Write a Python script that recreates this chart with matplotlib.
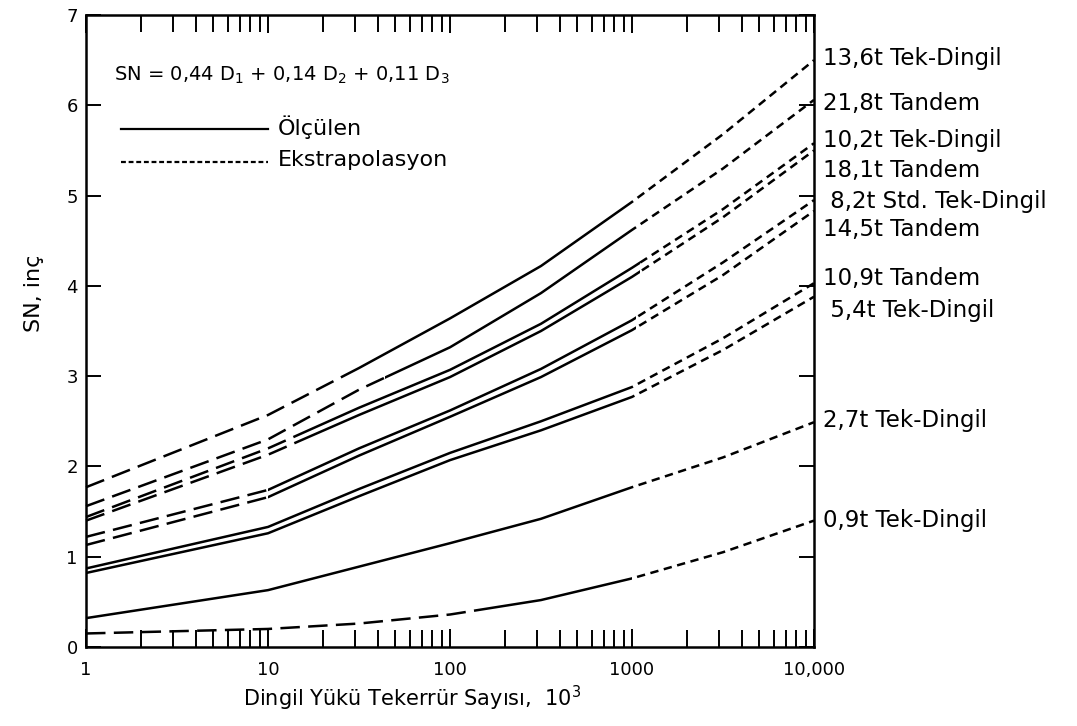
import numpy as np
import matplotlib
matplotlib.use("Agg")
import matplotlib.pyplot as plt
from matplotlib.patches import Rectangle

plt.rcParams["font.family"] = ["DejaVu Sans"]
plt.rcParams["lines.scale_dashes"] = False

# axle load repetitions (x 10^3) where values were read
X_READ = [1, 10, 31.6, 100, 316, 1000, 3162, 10000]

# SN (in) at X_READ
SN_136_TEK = [1.77, 2.57, 3.09, 3.64, 4.22, 4.93, 5.68, 6.50]
SN_218_TAN = [1.56, 2.30, 2.85, 3.32, 3.92, 4.62, 5.30, 6.06]
SN_102_TEK = [1.44, 2.20, 2.65, 3.07, 3.58, 4.20, 4.85, 5.58]
SN_181_TAN = [1.40, 2.13, 2.57, 2.99, 3.50, 4.10, 4.76, 5.50]
SN_82_STD = [1.22, 1.74, 2.20, 2.62, 3.08, 3.62, 4.26, 4.95]
SN_145_TAN = [1.13, 1.66, 2.12, 2.55, 2.99, 3.51, 4.12, 4.83]
SN_109_TAN = [0.87, 1.33, 1.75, 2.15, 2.50, 2.88, 3.42, 4.03]
SN_54_TEK = [0.82, 1.26, 1.67, 2.07, 2.40, 2.77, 3.29, 3.88]
SN_27_TEK = [0.32, 0.63, 0.89, 1.15, 1.42, 1.77, 2.10, 2.49]
SN_09_TEK = [0.15, 0.20, 0.26, 0.36, 0.52, 0.76, 1.05, 1.40]

CURVES = [SN_136_TEK, SN_218_TAN, SN_102_TEK, SN_181_TAN, SN_82_STD,
          SN_145_TAN, SN_109_TAN, SN_54_TEK, SN_27_TEK, SN_09_TEK]
# measured (solid) range of each curve, rest is extrapolation
MEASURED = [(27, 1000), (44, 1000), (14, 1100), (14, 1100), (10, 1050),
            (10, 1050), (1, 1000), (1, 1000), (1.2, 1000), (150, 1000)]

LABELS = ["13,6t Tek-Dingil", "21,8t Tandem", "10,2t Tek-Dingil", "18,1t Tandem",
          " 8,2t Std. Tek-Dingil", "14,5t Tandem", "10,9t Tandem", " 5,4t Tek-Dingil",
          "2,7t Tek-Dingil", "0,9t Tek-Dingil"]
LABEL_Y = [6.52, 6.02, 5.61, 5.28, 4.94, 4.62, 4.08, 3.73, 2.51, 1.40]

XTICKS = [1, 10, 100, 1000, 10000]
XTICKLABELS = ["1", "10", "100", "1000", "10,000"]

fig = plt.figure(figsize=(10.77, 7.26), dpi=100)
ax = fig.add_axes([0.0799, 0.1088, 0.6759, 0.8705])
ax.set_xscale("log")
ax.set_xlim(1, 10000)
ax.set_ylim(0, 7)

lw = 1.8
for ys, (a, b) in zip(CURVES, MEASURED):
    parts = [((0.5, a), dict(linestyle=(0, (14, 6)))),
             ((a, b), dict(linestyle="-")),
             ((b, 20000), dict(linestyle=(0, (6, 4))))]
    for (x0, x1), style in parts:
        if x1 <= x0 or (x0 == 0.5 and a <= 1):
            continue
        ln, = ax.plot(X_READ, ys, color="black", lw=lw, **style)
        rect = Rectangle((x0, -1), x1 - x0, 10, transform=ax.transData,
                         facecolor="none", edgecolor="none")
        ln.set_clip_path(rect)

for txt, y in zip(LABELS, LABEL_Y):
    ax.text(1.012, y, txt, transform=ax.get_yaxis_transform(), fontsize=16.5,
            va="center", ha="left")

# legend block
ax.text(0.038, 0.905, r"SN = 0,44 D$_1$ + 0,14 D$_2$ + 0,11 D$_3$",
        transform=ax.transAxes, fontsize=14, va="center", ha="left")
ax.plot([0.048, 0.25], [0.82, 0.82], transform=ax.transAxes, color="black", lw=1.6)
ax.plot([0.048, 0.25], [0.768, 0.768], transform=ax.transAxes, color="black", lw=1.6,
        linestyle=(0, (3.5, 2)))
ax.text(0.263, 0.822, "Ölçülen", transform=ax.transAxes, fontsize=16, va="center")
ax.text(0.263, 0.77, "Ekstrapolasyon", transform=ax.transAxes, fontsize=16, va="center")

ax.set_xticks(XTICKS)
ax.set_xticklabels(XTICKLABELS, fontsize=13)
ax.set_yticks(range(0, 8))
ax.set_yticklabels([str(v) for v in range(0, 8)], fontsize=13)
ax.tick_params(axis="x", which="both", direction="in", top=True, bottom=True,
               length=13, width=1.4, pad=10)
ax.tick_params(axis="x", which="minor", length=12)
ax.tick_params(axis="y", which="both", direction="in", left=True, right=True,
               length=11, width=1.4, pad=6)
for sp in ax.spines.values():
    sp.set_linewidth(1.8)

ax.set_ylabel("SN, inç", fontsize=16)
ax.yaxis.set_label_coords(-0.058, 0.56)
ax.set_xlabel(r"Dingil Yükü Tekerrür Sayısı,  10$^3$", fontsize=15)
ax.xaxis.set_label_coords(0.448, -0.058)

fig.savefig("out.png", dpi=100)
